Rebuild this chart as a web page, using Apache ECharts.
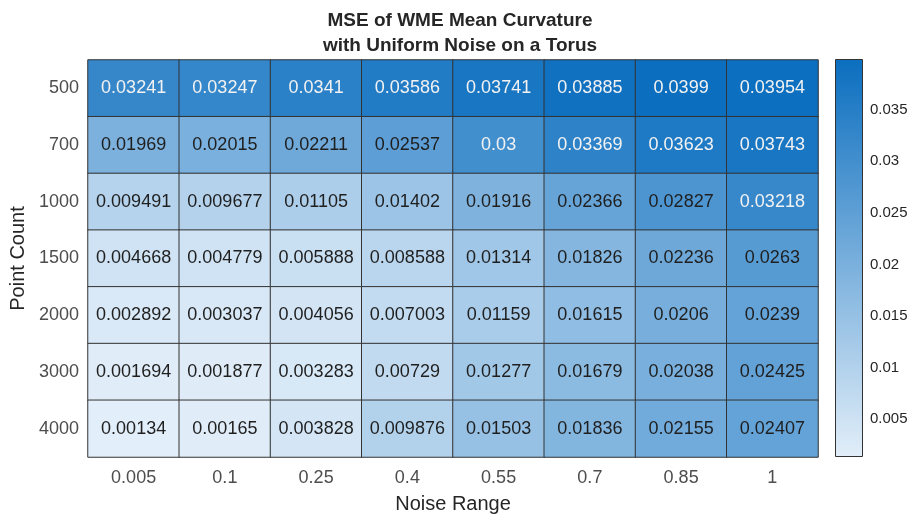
<!DOCTYPE html>
<html>
<head>
<meta charset="utf-8">
<script src="https://cdn.jsdelivr.net/npm/echarts@6/dist/echarts.min.js"></script>
<style>
  html, body { margin: 0; padding: 0; background: #fff; }
  #chart { width: 915px; height: 519px; }
</style>
</head>
<body>
<div id="chart"></div>
<script>
const noiseRanges = ["0.005", "0.1", "0.25", "0.4", "0.55", "0.7", "0.85", "1"];
const pointCounts = ["500", "700", "1000", "1500", "2000", "3000", "4000"];

// one row per point count, one value per noise range
const mse500 = [0.03241, 0.03247, 0.0341, 0.03586, 0.03741, 0.03885, 0.0399, 0.03954];
const mse700 = [0.01969, 0.02015, 0.02211, 0.02537, 0.03, 0.03369, 0.03623, 0.03743];
const mse1000 = [0.009491, 0.009677, 0.01105, 0.01402, 0.01916, 0.02366, 0.02827, 0.03218];
const mse1500 = [0.004668, 0.004779, 0.005888, 0.008588, 0.01314, 0.01826, 0.02236, 0.0263];
const mse2000 = [0.002892, 0.003037, 0.004056, 0.007003, 0.01159, 0.01615, 0.0206, 0.0239];
const mse3000 = [0.001694, 0.001877, 0.003283, 0.00729, 0.01277, 0.01679, 0.02038, 0.02425];
const mse4000 = [0.00134, 0.00165, 0.003828, 0.009876, 0.01503, 0.01836, 0.02155, 0.02407];

const colorbarTicks = [0.005, 0.01, 0.015, 0.02, 0.025, 0.03, 0.035];

const rows = [mse500, mse700, mse1000, mse1500, mse2000, mse3000, mse4000];
const allValues = rows.flat();
const cMin = Math.min(...allValues);
const cMax = Math.max(...allValues);

const lightColor = "#e2eef9";
const darkColor = "#0b6ebf";

const cells = [];
rows.forEach((row, y) => {
  row.forEach((v, x) => {
    const bright = (v - cMin) / (cMax - cMin) > 0.74;
    cells.push({
      value: [x, y, v],
      label: { color: bright ? "#f2f2f2" : "#1f1f1f" },
    });
  });
});

const font = "'Liberation Sans', Arial, Helvetica, sans-serif";
const chart = echarts.init(document.getElementById("chart"), null, { renderer: "canvas" });

chart.setOption({
  animation: false,
  title: {
    text: "MSE of WME Mean Curvature\nwith Uniform Noise on a Torus",
    left: 455,
    top: 3,
    textAlign: "center",
    textStyle: {
      fontFamily: font,
      fontSize: 19,
      fontWeight: "bold",
      color: "#262626",
      lineHeight: 25,
    },
  },
  grid: [
    { left: 88, right: 97, top: 60, bottom: 61 },
    { left: 835, width: 28, top: 59, bottom: 62 },
  ],
  xAxis: [
    {
      type: "category",
      gridIndex: 0,
      data: noiseRanges,
      name: "Noise Range",
      nameLocation: "middle",
      nameGap: 37,
      nameTextStyle: { fontFamily: font, fontSize: 20, color: "#262626" },
      axisLine: { show: false },
      axisTick: { show: false },
      splitLine: { show: false },
      axisLabel: { fontFamily: font, fontSize: 18, color: "#4d4d4d", margin: 12 },
    },
    {
      type: "category",
      gridIndex: 1,
      data: ["c"],
      show: false,
    },
  ],
  yAxis: [
    {
      type: "category",
      gridIndex: 0,
      data: pointCounts,
      inverse: true,
      name: "Point Count",
      nameLocation: "middle",
      nameGap: 56,
      nameTextStyle: { fontFamily: font, fontSize: 20, color: "#262626" },
      axisLine: { show: false },
      axisTick: { show: false },
      splitLine: { show: false },
      axisLabel: { fontFamily: font, fontSize: 18, color: "#4d4d4d", margin: 9 },
    },
    {
      type: "value",
      gridIndex: 1,
      position: "right",
      min: cMin,
      max: cMax,
      axisLine: { show: false },
      splitLine: { show: false },
      axisTick: {
        show: true,
        inside: true,
        length: 4,
        customValues: colorbarTicks,
        lineStyle: { color: "#333" },
      },
      axisLabel: {
        fontFamily: font,
        fontSize: 15,
        color: "#262626",
        margin: 7,
        customValues: colorbarTicks,
        formatter: (v) => String(Number(v.toFixed(3))),
      },
    },
  ],
  visualMap: {
    show: false,
    seriesIndex: 0,
    dimension: 2,
    min: cMin,
    max: cMax,
    inRange: { color: [lightColor, darkColor] },
  },
  series: [
    {
      type: "heatmap",
      xAxisIndex: 0,
      yAxisIndex: 0,
      data: cells,
      itemStyle: { borderColor: "#333333", borderWidth: 1 },
      label: {
        show: true,
        fontFamily: font,
        fontSize: 18,
        formatter: (p) => String(p.value[2]),
      },
      emphasis: { disabled: true },
    },
    {
      type: "bar",
      xAxisIndex: 1,
      yAxisIndex: 1,
      stack: "cb",
      data: [cMin],
      barWidth: "100%",
      itemStyle: { color: "rgba(0,0,0,0)" },
      silent: true,
    },
    {
      type: "bar",
      xAxisIndex: 1,
      yAxisIndex: 1,
      stack: "cb",
      data: [cMax - cMin],
      barWidth: "100%",
      silent: true,
      itemStyle: {
        borderColor: "#333333",
        borderWidth: 1,
        color: {
          type: "linear",
          x: 0, y: 0, x2: 0, y2: 1,
          colorStops: [
            { offset: 0, color: darkColor },
            { offset: 1, color: lightColor },
          ],
        },
      },
    },
  ],
});
</script>
</body>
</html>
